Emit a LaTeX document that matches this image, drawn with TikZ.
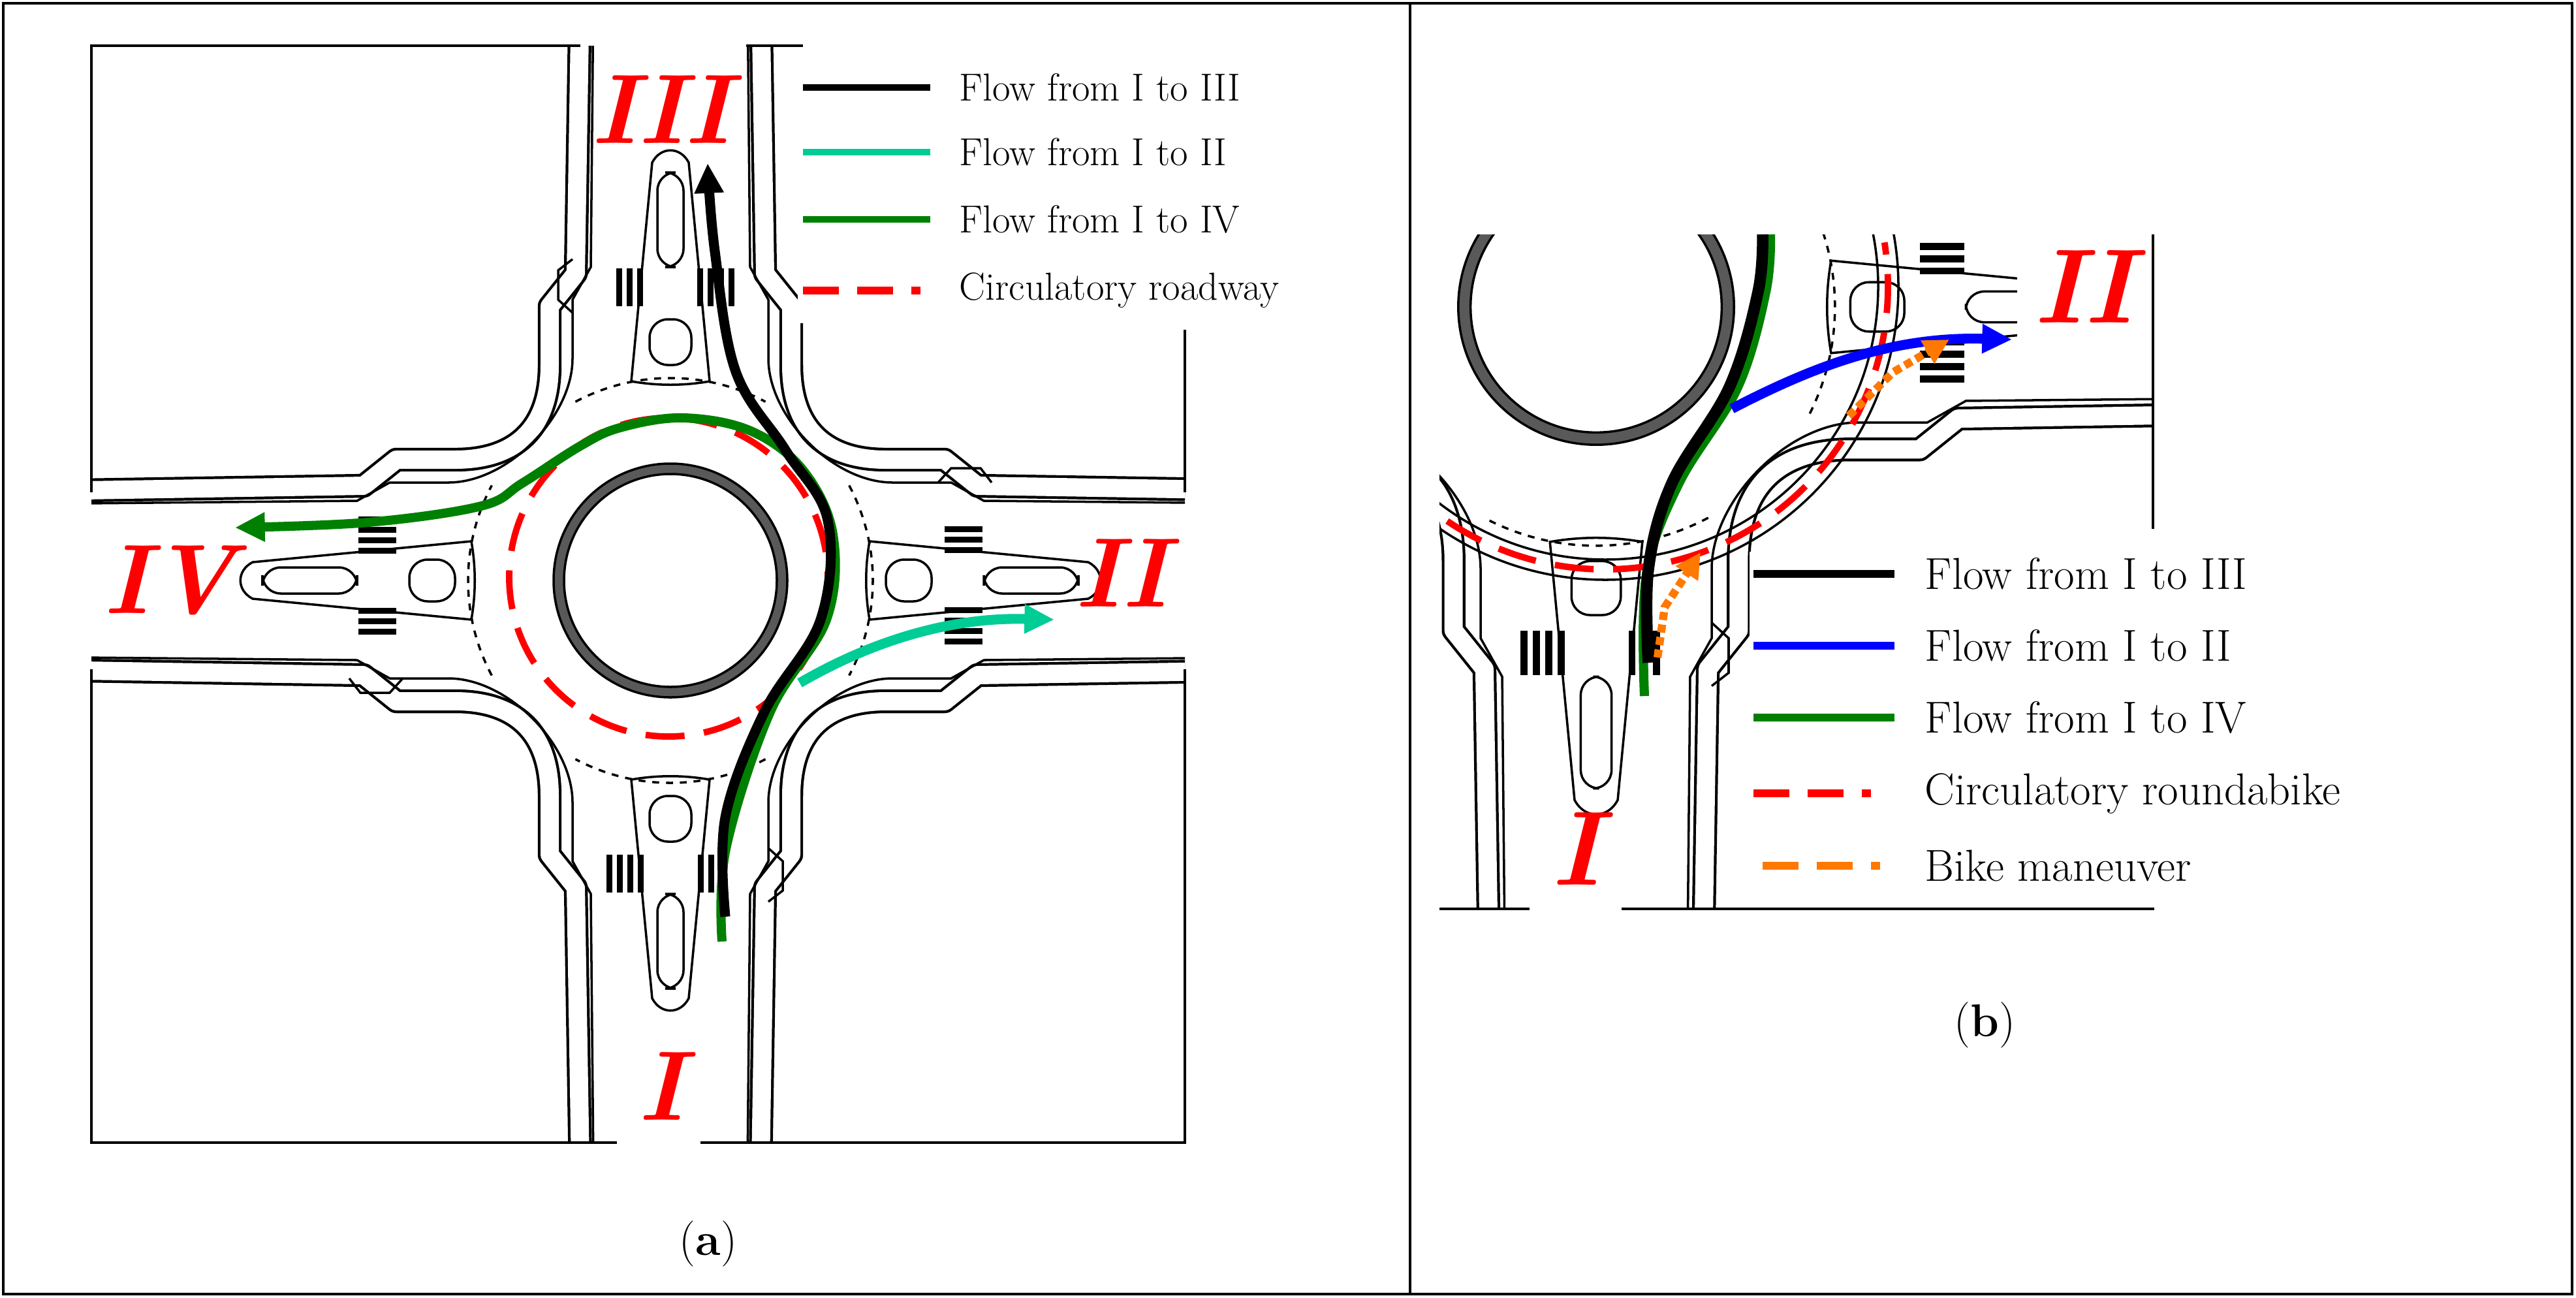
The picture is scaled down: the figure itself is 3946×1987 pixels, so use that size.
\documentclass[tikz,border=0pt]{standalone}
\usetikzlibrary{arrows.meta,calc}
\definecolor{cyanf}{RGB}{0,204,150}
\definecolor{greenf}{RGB}{0,128,0}
\definecolor{orangef}{RGB}{255,120,0}
\tikzset{
 curb/.style={line width=1.2pt,double=white,double distance=0.28cm,line join=round},
 thin/.style={line width=1pt},
 lbl/.style={text=red,font=\fontsize{43}{43}\selectfont\bfseries\itshape,inner sep=0pt},
 legA/.style={anchor=west,font=\fontsize{17}{20}\selectfont,inner sep=0pt},
 legB/.style={anchor=west,font=\fontsize{19.5}{22}\selectfont,inner sep=0pt},
 rdash/.style={red,line width=2.8pt,dash pattern=on 17pt off 8.5pt},
 legdash/.style={line width=3.2pt,dash pattern=on 15.6pt off 8pt on 15.6pt off 8pt on 4pt off 20pt},
 tip/.style={-{Triangle[length=13pt,width=12pt]}},
}
\newcommand{\quadSE}{%
 \draw[curb] (138,900) -- (145,470) -- (185,420) -- (185,330) .. controls (185,235) and (235,185) .. (330,185) -- (420,185) -- (470,145) -- (900,138);
 \draw[thin] (118,900) -- (122,480) -- (150,430) -- (150,340) .. controls (150,250) and (250,150) .. (340,150) -- (430,150) -- (480,122) -- (900,118);
 \draw[thin] (150,410) -- (172,430) -- (172,475) -- (150,492);
 \draw[thin] (-60,305) .. controls (-20,298) and (20,298) .. (60,305) -- (28,640) .. controls (15,665) and (-15,665) .. (-28,640) -- cycle;
 \draw[thin,rounded corners=8pt] (-32,330) rectangle (32,400);
 \draw[thin,rounded corners=8pt] (-20,480) rectangle (20,625);
 \foreach \x in {-98,-82,-66,-50} \fill (\x,420) rectangle (\x+9,478);
 \foreach \x in {42,58,74} \fill (\x,420) rectangle (\x+9,478);
 \draw[thin,dashed] (62:310) arc[start angle=62,end angle=118,radius=310];
}
\newcommand{\rbt}{%
 \foreach \r in {0,90,180,270} {\begin{scope}[rotate=\r]\quadSE\end{scope}}
 \fill[black!65,even odd rule] (0,0) circle[radius=179] (0,0) circle[radius=163];
 \draw[thin] (0,0) circle[radius=179] (0,0) circle[radius=163];
}
\begin{document}
\begin{tikzpicture}[x=0.01cm,y=-0.01cm]
\useasboundingbox (0,0) rectangle (3946,1987);
\draw[line width=1.2pt] (5,5) rectangle (3940,1982);
\draw[line width=1.2pt] (2160,5) -- (2160,1982);
\begin{scope}
 \clip (140,70) rectangle (1815,1750);
 \begin{scope}[shift={(1027,889)}] \rbt \end{scope}
\end{scope}
\draw[thin] (140,754) -- (140,70) -- (889,70);
\draw[thin] (1143,70) -- (1230,70);
\draw[thin] (140,1025) -- (140,1750) -- (945,1750);
\draw[thin] (1073,1750) -- (1815,1750) -- (1815,1025);
\draw[thin] (1815,754) -- (1815,505);
\fill[white] (1222,78) rectangle (2100,495);
\draw[rdash] (1024,884) circle[radius=244];
\draw[greenf,line width=4pt,tip] plot[smooth,tension=0.6] coordinates {(1106,1442)(1112,1300)(1180,1090)(1266,949)(1276,819)(1230,720)(1150,660)(1046,640)(950,655)(889,683)(800,740)(737,775)(564,800)(360,808)};
\draw[black,line width=4.3pt,tip] plot[smooth,tension=0.6] coordinates {(1111,1404)(1111,1252)(1171,1090)(1257,949)(1268,797)(1203,689)(1127,569)(1095,385)(1084,250)};
\draw[cyanf,line width=4.3pt,tip] (1225,1046) .. controls (1330,985) and (1450,945) .. (1615,949);
\node[lbl] (lIII) at (1013,168) {III};
\node[lbl] (lII) at (1718,878) {II};
\node[lbl] (lIV) at (260,889) {IV};
\node[lbl] (lI) at (1013,1664) {I};
\draw[black,line width=3pt] (1230,134) -- (1425,134); \node[legA] (a1) at (1469,134) {Flow from I to III};
\draw[cyanf,line width=3pt] (1230,233) -- (1425,233); \node[legA] (a2) at (1469,233) {Flow from I to II};
\draw[greenf,line width=3pt] (1230,336) -- (1425,336); \node[legA] (a3) at (1469,336) {Flow from I to IV};
\draw[red,legdash] (1230,445) -- (1425,445); \node[legA] (a4) at (1469,445) {Circulatory roadway};
\node[font=\fontsize{20}{24}\selectfont] (capa) at (1085,1905) {(\textbf{a})};
\begin{scope}
 \clip (2205,359) rectangle (3298,1392);
 \begin{scope}[shift={(2445,470)},scale=1.18] \rbt \end{scope}
 \fill[white] (3090,359) rectangle (3296,575);
 \draw[thin] (2459,439) circle[radius=449];
 \draw[thin] (2459,439) circle[radius=418];
 \draw[rdash] ($(2459,439)+(124:433)$) arc[start angle=124,end angle=-9,radius=433];
\end{scope}
\draw[thin] (2205,1392) -- (2343,1392);
\draw[thin] (2484,1392) -- (3300,1392);
\draw[thin] (3298,359) -- (3298,810);
\fill[white] (2680,845) rectangle (3290,1360);
\draw[greenf,line width=4pt] plot[smooth,tension=0.6] coordinates {(2519,1066)(2522,880)(2572,740)(2662,593)(2705,447)(2712,359)};
\draw[black,line width=5pt] plot[smooth,tension=0.6] coordinates {(2525,1015)(2525,872)(2561,740)(2649,593)(2693,447)(2700,359)};
\draw[blue,line width=4.3pt,tip] (2653,626) .. controls (2780,560) and (2900,515) .. (3082,520);
\draw[orangef,line width=3.5pt,dotted,-{Triangle[length=11pt,width=11pt]}] (2539,1007) -- (2550,930) -- (2605,846);
\draw[orangef,line width=3.5pt,dotted,-{Triangle[length=11pt,width=11pt]}] (2832,637) -- (2900,570) -- (2986,520);
\node[lbl,font=\fontsize{46}{46}\selectfont\bfseries\itshape] (rII) at (3192,439) {II};
\node[lbl,font=\fontsize{46}{46}\selectfont\bfseries\itshape] (rI) at (2415,1300) {I};
\draw[black,line width=3.5pt] (2686,879) -- (2902,879); \node[legB] (b1) at (2948,879) {Flow from I to III};
\draw[blue,line width=3.5pt] (2686,989) -- (2902,989); \node[legB] (b2) at (2948,989) {Flow from I to II};
\draw[greenf,line width=3.5pt] (2686,1099) -- (2902,1099); \node[legB] (b3) at (2948,1099) {Flow from I to IV};
\draw[red,legdash] (2686,1215) -- (2902,1215); \node[legB] (b4) at (2948,1215) {Circulatory roundabike};
\draw[orangef,legdash] (2700,1326) -- (2916,1326); \node[legB] (b5) at (2948,1326) {Bike maneuver};
\node[font=\fontsize{20}{24}\selectfont] (capb) at (3040,1570) {(\textbf{b})};
\end{tikzpicture}
\end{document}
